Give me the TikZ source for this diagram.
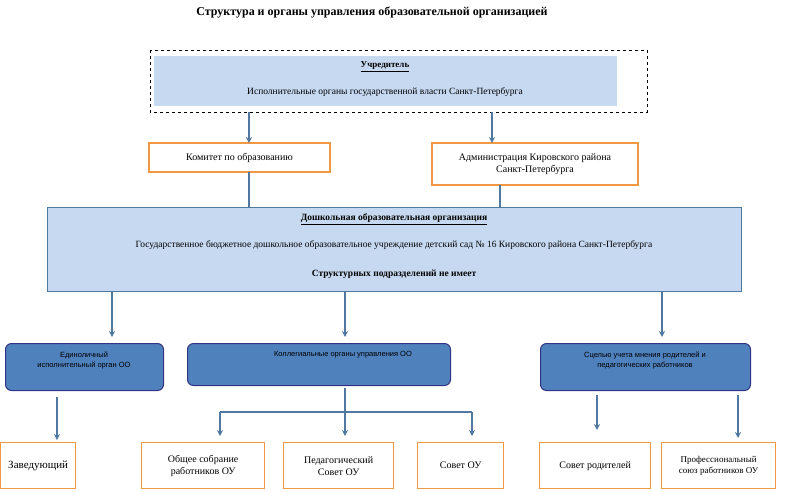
\documentclass[tikz,border=0pt]{standalone}
\usepackage{fontspec}
\usetikzlibrary{arrows.meta}
\setmainfont{Liberation Serif}
\newfontfamily\sans{Liberation Sans}
\begin{document}
\begin{tikzpicture}[x=1pt,y=-1pt,
 ob/.style={draw=orange!70!brown!80, line width=1.3pt, fill=white, align=center, font=\fontsize{10}{12}\selectfont, inner sep=2pt},
 db/.style={draw=blue!40!black!80, line width=1pt, fill={rgb,255:red,79;green,129;blue,189}, rounded corners=6pt, align=center, font=\sans\fontsize{7.5}{10}\selectfont, text={rgb,255:red,20;green,30;blue,50}, inner sep=2pt},
 ar/.style={draw={rgb,255:red,80;green,120;blue,160}, line width=1.3pt, -{Stealth[length=6pt,width=6pt]}},
 ln/.style={draw={rgb,255:red,80;green,120;blue,160}, line width=1.3pt}]
\useasboundingbox (0,0) rectangle (786,491);
\node[font=\bfseries\fontsize{12}{14}\selectfont] (title) at (372,12) {Структура и органы управления образовательной организацией};
\draw[dashed, line width=0.8pt] (150,50) rectangle (647,112);
\node[fill={rgb,255:red,198;green,217;blue,241}, minimum width=463, minimum height=50, inner sep=0] (u) at (385.5,81) {};
\node[font=\bfseries\fontsize{9}{11}\selectfont] at (385,67) {\underline{Учредитель}};
\node[font=\fontsize{9.5}{11}\selectfont] at (385,92) {Исполнительные органы государственной власти Санкт-Петербурга};
\coordinate (u1) at (249,112); \coordinate (u2) at (492,112);
\node[ob, minimum width=181, minimum height=29] (k) at (239.5,157.5) {Комитет по образованию};
\node[ob, minimum width=206, minimum height=42] (a) at (535,164) {Администрация Кировского района\\Санкт-Петербурга};
\draw[ar] (u1) -- (249,143);
\draw[ar] (u2) -- (492,143);
\node[draw={rgb,255:red,80;green,120;blue,160}, line width=1pt, fill={rgb,255:red,198;green,217;blue,241}, minimum width=694, minimum height=84] (d) at (394,249) {};
\node[font=\bfseries\fontsize{9.5}{11}\selectfont] at (394,219) {\underline{Дошкольная образовательная организация}};
\node[font=\fontsize{9.5}{11}\selectfont] at (394,245) {Государственное бюджетное дошкольное образовательное учреждение детский сад № 16 Кировского района Санкт-Петербурга};
\node[font=\bfseries\fontsize{9.5}{11}\selectfont] at (394,274) {Структурных подразделений не имеет};
\draw[ln] (249,172) -- (249,207);
\draw[ln] (500,185) -- (500,207);
\node[db, minimum width=158, minimum height=47, anchor=north west] (e) at (5,343) {};
\node[db, minimum width=263, minimum height=42, anchor=north west] (c) at (187,343) {};
\node[db, minimum width=210, minimum height=47, anchor=north west] (p) at (540,343) {};
\node[font=\sans\fontsize{7.5}{10}\selectfont, align=center] at (84,360) {Единоличный\\исполнительный орган ОО};
\node[font=\sans\fontsize{7.5}{10}\selectfont] at (343,355) {Коллегиальные органы управления ОО};
\node[font=\sans\fontsize{7.5}{10}\selectfont, align=center] at (645,360) {Сцелью учета мнения родителей и\\педагогических работников};
\draw[ar] (112,291) -- (112,337);
\draw[ar] (345,291) -- (345,337);
\draw[ar] (662,291) -- (662,337);
\node[ob, minimum width=75, minimum height=46, anchor=north west, font=\fontsize{11}{13}\selectfont] (z) at (0,442) {Заведующий};
\node[ob, minimum width=123, minimum height=46, anchor=north west] (o) at (141,442) {Общее собрание\\работников ОУ};
\node[ob, minimum width=110, minimum height=46, anchor=north west] (g) at (283,442) {Педагогический\\Совет ОУ};
\node[ob, minimum width=86, minimum height=46, anchor=north west] (s) at (417,442) {Совет ОУ};
\node[ob, minimum width=111, minimum height=46, anchor=north west] (r) at (539,442) {Совет родителей};
\node[ob, minimum width=114, minimum height=46, anchor=north west, font=\fontsize{9}{11}\selectfont] (f) at (661,442) {Профессиональный\\союз работников ОУ};
\draw[ar] (57,397) -- (57,440);
\draw[ln] (345,388) -- (345,412);
\draw[ln] (220,412) -- (472,412);
\draw[ar] (220,412) -- (220,436);
\draw[ar] (345,412) -- (345,436);
\draw[ar] (472,412) -- (472,436);
\draw[ar] (597,395) -- (597,430);
\draw[ar] (738,395) -- (738,438);
\end{tikzpicture}
\end{document}
